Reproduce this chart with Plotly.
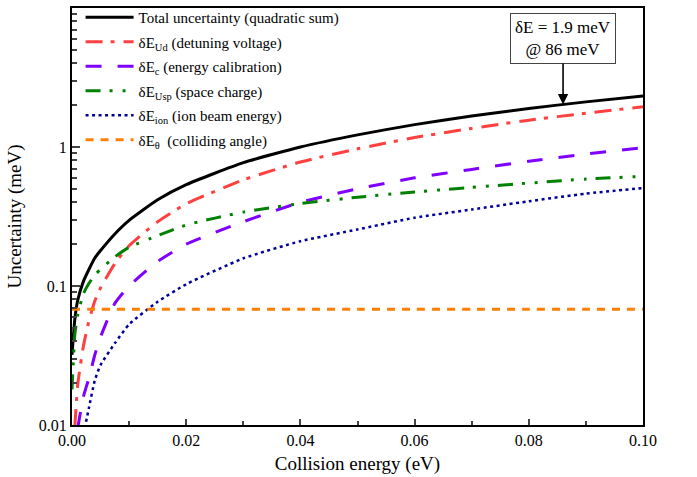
import numpy as np
import plotly.graph_objects as go

energy = [0, 0.0005, 0.001, 0.002, 0.003, 0.004, 0.005, 0.0075, 0.01, 0.015,
          0.02, 0.03, 0.04, 0.05, 0.06, 0.07, 0.08, 0.09, 0.1]
total = [0.032, 0.058, 0.079, 0.108, 0.1325, 0.159, 0.18, 0.237, 0.297, 0.417,
         0.536, 0.772, 1.0, 1.223, 1.449, 1.672, 1.893, 2.112, 2.33]
dE_ud = [None, 0.0098, 0.0195, 0.037, 0.057, 0.078, 0.097, 0.145, 0.195, 0.29,
         0.39, 0.58, 0.78, 0.97, 1.17, 1.36, 1.56, 1.75, 1.95]
dE_c = [None, None, 0.0095, 0.016, 0.022, 0.032, 0.043, 0.075, 0.1, 0.15,
        0.2, 0.29, 0.4, 0.5, 0.6, 0.69, 0.79, 0.89, 0.99]
dE_usp = [0.018, 0.045, 0.062, 0.088, 0.105, 0.12, 0.132, 0.162, 0.19, 0.23,
          0.275, 0.34, 0.392, 0.435, 0.475, 0.512, 0.55, 0.588, 0.615]
dE_ion = [None, None, None, 0.0085, 0.0135, 0.021, 0.027, 0.0387, 0.053, 0.077,
          0.103, 0.158, 0.21, 0.255, 0.31, 0.355, 0.407, 0.462, 0.507]
dE_theta = [0.068, 0.068, 0.068, 0.068, 0.068, 0.068, 0.068, 0.068, 0.068, 0.068,
            0.068, 0.068, 0.068, 0.068, 0.068, 0.068, 0.068, 0.068, 0.068]

names = ["Total uncertainty (quadratic sum)",
         "δE<sub>Ud</sub> (detuning voltage)",
         "δE<sub>c</sub> (energy calibration)",
         "δE<sub>Usp</sub> (space charge)",
         "δE<sub>ion</sub> (ion beam energy)",
         "δE<sub>θ</sub>  (colliding angle)"]
series = [total, dE_ud, dE_c, dE_usp, dE_ion, dE_theta]
colors = ["#000000", "#FF4040", "#8000FF", "#008000", "#000099", "#FF8000"]
dashes = ["solid", "17px,8px,4px,9px", "16px,16px", "15px,9px,3px,10px,3px,9px",
          "3px,3.5px", "8px,7px"]
widths = [3, 3, 3, 3, 2.5, 3]

annot_E = 0.086
annot_text = "δE = 1.9 meV<br>@ 86 meV"

FONT = "Liberation Serif"

fig = go.Figure()
for i, (nm, ys, c, d, w) in enumerate(zip(names, series, colors, dashes, widths)):
    fig.add_trace(go.Scatter(
        x=energy, y=ys, name=nm, mode="lines", connectgaps=False,
        line=dict(color=c, dash=d, width=w, shape="spline", smoothing=0.5),
        legendgroup=str(i)))

tip_y = np.interp(annot_E, energy, total)
fig.add_annotation(x=annot_E, y=np.log10(tip_y), xref="x", yref="y",
                   text=annot_text, showarrow=True, ax=0, ay=-66,
                   arrowhead=2, arrowsize=1.3, arrowwidth=1.6, arrowcolor="black",
                   bordercolor="#444", borderwidth=1, borderpad=4,
                   bgcolor="white", font=dict(family=FONT, size=17, color="black"))

fig.update_layout(
    width=697, height=477,
    margin=dict(l=72, r=54, t=8, b=52, autoexpand=False),
    paper_bgcolor="white", plot_bgcolor="white",
    font=dict(family=FONT, size=16, color="black"),
    showlegend=True,
    legend=dict(x=0.015, y=1.017, xanchor="left", yanchor="top",
                bgcolor="rgba(0,0,0,0)", font=dict(family=FONT, size=15, color="black"),
                traceorder="grouped", tracegroupgap=2, itemwidth=48),
    xaxis=dict(range=[0, 0.1], tickvals=[0, 0.02, 0.04, 0.06, 0.08, 0.1],
               tickformat=".2f", ticks="inside", ticklen=6, tickwidth=1.5,
               minor=dict(ticks="inside", ticklen=4, tickwidth=1.5, dtick=0.01),
               showline=True, linecolor="black", linewidth=2, mirror=True,
               showgrid=False, zeroline=False,
               title=dict(text="Collision energy (eV)", font=dict(size=19), standoff=8)),
    yaxis=dict(type="log", range=[-2, 1],
               tickvals=[0.01, 0.1, 1, 10], ticktext=["0.01", "0.1", "1", "10"],
               ticks="inside", ticklen=8, tickwidth=1.5,
               minor=dict(ticks="inside", ticklen=5, tickwidth=1.5, dtick="D1"),
               showline=True, linecolor="black", linewidth=2, mirror=True,
               showgrid=False, zeroline=False,
               title=dict(text="Uncertainty (meV)", font=dict(size=19), standoff=12)),
)

fig.write_html("out.html")
